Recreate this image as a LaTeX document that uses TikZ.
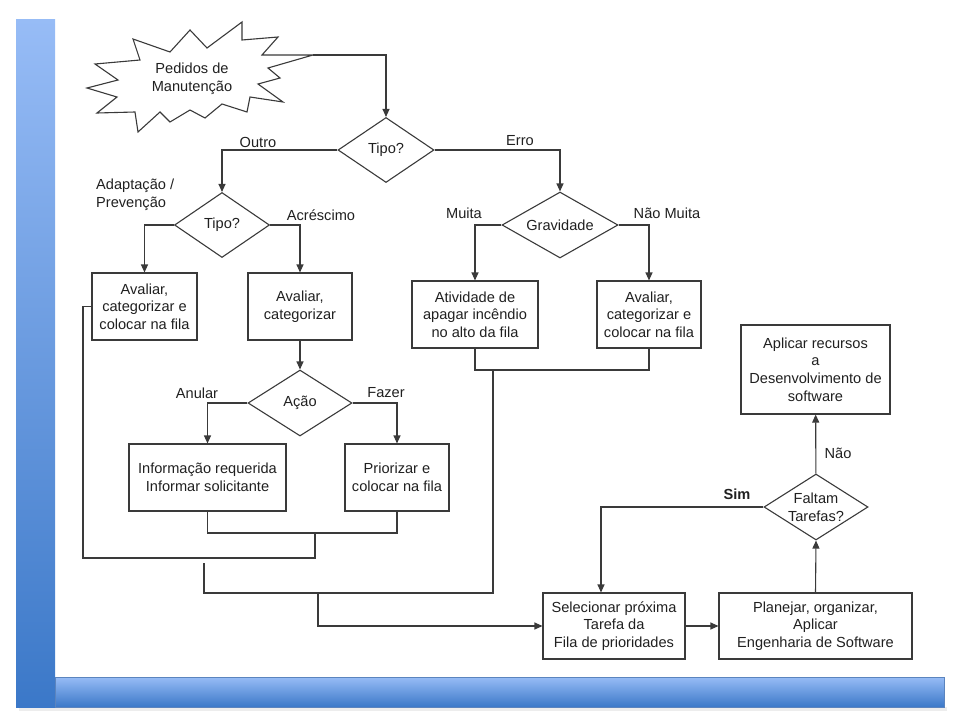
\documentclass[tikz,border=0pt]{standalone}
\usepackage{fontspec}
\setmainfont{Liberation Sans}
\usepackage{xcolor}
\usepackage{tikz}
\usetikzlibrary{arrows.meta}
\usetikzlibrary{shapes.geometric}

\definecolor{linha}{HTML}{3A3A3A}
\definecolor{texto}{HTML}{202020}
\definecolor{barraclara}{HTML}{97BCF6}
\definecolor{barraescura}{HTML}{3B78C8}
\definecolor{barraborda}{HTML}{5B84BE}
\newcommand{\fonte}{\fontsize{14.6pt}{17.7pt}\selectfont}

\begin{document}
\begin{tikzpicture}[x=1pt,y=-1pt]
\tikzset{>={Triangle[width=7pt,length=8pt]}}
\tikzstyle{caixa} =[rectangle,draw=linha,line width=1.1pt,align=center,inner sep=0pt,font=\fonte,text=texto]
\tikzstyle{decisao} =[diamond,draw=linha,line width=1.1pt,align=center,inner sep=-2pt,aspect=1.5,font=\fonte,text=texto]
\tikzstyle{rotulo} =[inner sep=0pt,font=\fonte,text=texto]
\tikzstyle{liga} =[draw=linha,line width=1.1pt]

\useasboundingbox (0,0) rectangle (960,720);

% moldura azul
\fill[black!7] (19,707) rectangle (947,711);
\shade[top color=barraclara,bottom color=barraescura] (16,19) rectangle (55,707);
\shade[top color=barraclara,bottom color=barraescura,draw=barraborda,line width=0.6pt] (55,677) rectangle (944,707);

% explosao
\draw[liga,fill=white,line join=miter] (313,55) -- (268,68) -- (280,78) -- (258,84) -- (283,102)
  -- (250,97) -- (247,112) -- (222,104) -- (205,118) -- (190,110) -- (170,122) -- (160,112)
  -- (138,132) -- (135,112) -- (97,113) -- (117,97) -- (87,88) -- (118,80) -- (95,64)
  -- (140,60) -- (133,39) -- (170,52) -- (190,30) -- (207,48) -- (242,22) -- (242,40)
  -- (278,37) -- (262,55) -- cycle;
\node[rotulo,align=center](pedidos) at (192,79){Pedidos de\\Manutenção};
\coordinate (pedTip) at (313,55);

% decisoes
\node[decisao,minimum width=96pt,minimum height=65pt](tipo1) at (386,150){Tipo?};
\node[decisao,minimum width=95pt,minimum height=65pt](tipo2) at (222,225){Tipo?};
\node[decisao,minimum width=116pt,minimum height=66pt](grav) at (560,225){Gravidade};
\node[decisao,minimum width=104pt,minimum height=66pt](acao) at (300,403){Ação};
\node[decisao,minimum width=104pt,minimum height=66pt](faltam) at (816,507){Faltam\\Tarefas?};

% caixas
\node[caixa,minimum width=105pt,minimum height=67pt](av1) at (144.5,306.5){Avaliar,\\categorizar e\\colocar na fila};
\node[caixa,minimum width=104pt,minimum height=67pt](av2) at (300,306.5){Avaliar,\\categorizar};
\node[caixa,minimum width=157pt,minimum height=67pt](info) at (207.5,477.5){Informação requerida\\Informar solicitante};
\node[caixa,minimum width=104pt,minimum height=67pt](prio) at (397,477.5){Priorizar e\\colocar na fila};
\node[caixa,minimum width=126pt,minimum height=67pt](ativ) at (475,314.5){Atividade de\\apagar incêndio\\no alto da fila};
\node[caixa,minimum width=104pt,minimum height=67pt](av3) at (649,314.5){Avaliar,\\categorizar e\\colocar na fila};
\node[caixa,minimum width=149pt,minimum height=89pt](rec) at (815.5,369.5){Aplicar recursos\\a\\Desenvolvimento de\\software};
\node[caixa,minimum width=142pt,minimum height=66pt](sel) at (614,626){Selecionar próxima\\Tarefa da\\Fila de prioridades};
\node[caixa,minimum width=193pt,minimum height=66pt](plan) at (815.5,626){Planejar, organizar,\\Aplicar\\Engenharia de Software};

% rotulos
\node[rotulo](lOutro) at (258,142){Outro};
\node[rotulo](lErro) at (520,141){Erro};
\node[rotulo,anchor=west,align=left](lAdapt) at (96,195){Adaptação /\\Prevenção};
\node[rotulo](lAcresc) at (321,215){Acréscimo};
\node[rotulo](lMuita) at (464,213){Muita};
\node[rotulo](lNaoMuita) at (667,213){Não Muita};
\node[rotulo](lAnular) at (197,393){Anular};
\node[rotulo](lFazer) at (386,393){Fazer};
\node[rotulo](lNao) at (838,453){Não};
\node[rotulo,font=\fonte\bfseries](lSim) at (737,494){Sim};

% pontos de juncao
\coordinate (j1) at (315,533);
\coordinate (j2) at (315,558);
\coordinate (c1) at (83,306.5);
\coordinate (k1) at (204,563);
\coordinate (k2) at (493,370);
\coordinate (k3) at (493,593);
\coordinate (k4) at (318,593);

% ligacoes
\draw[liga,->] (pedTip) -| (tipo1);
\draw[liga,->] (tipo1.west) -| (tipo2);
\draw[liga,->] (tipo1.east) -| (grav);
\draw[liga,->] (tipo2.west) -| (av1);
\draw[liga,->] (tipo2.east) -| (av2);
\draw[liga,->] (av2) -- (acao);
\draw[liga,->] (acao.west) -| (info);
\draw[liga,->] (acao.east) -| (prio);
\draw[liga,->] (grav.west) -| (ativ);
\draw[liga,->] (grav.east) -| (av3);
\draw[liga] (info) |- (j1) -| (prio);
\draw[liga] (av1.west) -- (c1) |- (j2) -- (j1);
\draw[liga] (ativ) |- (k2) -| (av3);
\draw[liga] (k1) |- (k3) -- (k2);
\draw[liga,->] (k4) |- (sel);
\draw[liga,->] (sel) -- (plan);
\draw[liga,->] (plan.north) -- (faltam.south);
\draw[liga,->] (faltam) -- (rec);
\draw[liga,->] (faltam.west) -| ([xshift=-13pt]sel.north);
\end{tikzpicture}
\end{document}
